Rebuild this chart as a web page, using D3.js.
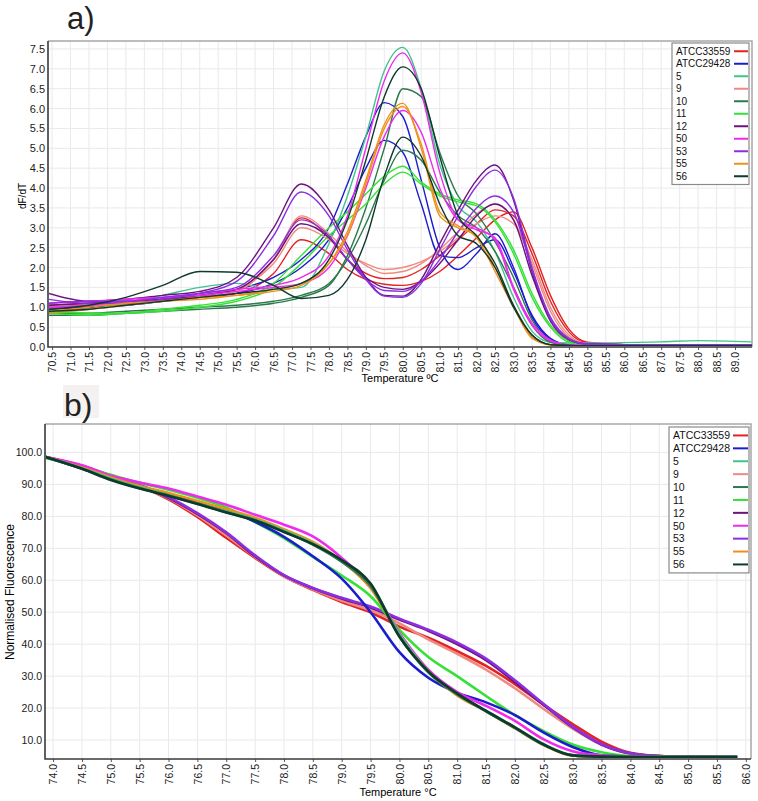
<!DOCTYPE html>
<html><head><meta charset="utf-8">
<script src="https://cdn.jsdelivr.net/npm/d3@7"></script>
<style>
html,body{margin:0;padding:0;background:#fff;}
svg{display:block;font-family:"Liberation Sans",Arial,sans-serif;}
</style></head>
<body><svg id="c" width="758" height="801"></svg>
<script>
// ---------- DATA ----------
const samples = ["ATCC33559","ATCC29428","5","9","10","11","12","50","53","55","56"];
const sampleColors = ["#e32222","#1c1ccf","#3fc48c","#f08a80","#2b7a4c","#36e036","#6c137c","#ee2aee","#8b2fe0","#f0901c","#0e3a2e"];

// a) derivative melt curves (dF/dT), replicates per sample, sampled at meltTemps
const meltTemps = [70.4,71.5,72.5,73.5,74.5,75.5,76.5,77.25,78,78.5,79,79.5,80,80.5,81,81.5,82,82.5,83,83.5,84,84.5,85,86,87,88,89.45];
const dFdT_ATCC33559 = [
 [1.05,1.1,1.15,1.2,1.25,1.35,1.85,2.7,2.35,1.95,1.7,1.58,1.55,1.65,1.9,2.3,2.75,3.2,3.4,2.5,1.3,0.45,0.12,0.06,0.05,0.05,0.05],
 [0.85,1.0,1.1,1.2,1.3,1.45,2.2,3.25,2.75,2.2,1.85,1.72,1.75,1.95,2.3,2.7,3.1,3.45,3.3,2.35,1.15,0.38,0.1,0.06,0.05,0.05,0.05]];
const dFdT_ATCC29428 = [
 [1.0,1.05,1.1,1.2,1.3,1.45,1.75,2.2,3.0,4.1,5.3,6.15,5.8,4.2,2.5,1.95,2.35,2.85,2.0,0.75,0.2,0.06,0.05,0.05,0.05,0.05,0.05],
 [0.95,1.0,1.05,1.15,1.25,1.35,1.6,2.0,2.7,3.5,4.5,5.2,4.9,3.6,2.3,2.25,2.5,2.7,1.9,0.8,0.22,0.06,0.05,0.05,0.05,0.05,0.05]];
const dFdT_5 = [
 [0.85,0.95,1.1,1.3,1.5,1.6,1.45,1.5,2.6,3.8,5.3,6.95,7.54,6.5,4.6,3.55,3.15,2.4,1.25,0.4,0.12,0.1,0.1,0.11,0.13,0.16,0.13]];
const dFdT_9 = [
 [0.9,0.95,1.05,1.15,1.25,1.4,2.2,3.3,2.85,2.4,2.05,1.85,1.9,2.1,2.45,2.9,3.35,3.6,3.2,2.1,0.9,0.25,0.08,0.06,0.05,0.05,0.05],
 [1.0,1.05,1.1,1.2,1.3,1.45,2.1,3.0,2.7,2.35,2.1,1.95,2.0,2.15,2.4,2.75,3.1,3.3,3.1,2.2,1.0,0.3,0.08,0.06,0.05,0.05,0.05]];
const dFdT_10 = [
 [0.8,0.8,0.85,0.9,0.95,1.0,1.1,1.25,1.55,2.3,3.5,5.0,6.5,6.3,4.9,3.8,3.35,2.65,1.75,0.68,0.15,0.05,0.04,0.04,0.04,0.04,0.04],
 [0.85,0.85,0.9,0.95,1.0,1.05,1.15,1.3,1.6,2.2,3.1,4.2,4.95,4.7,3.9,3.3,3.0,2.4,1.5,0.55,0.12,0.04,0.04,0.04,0.04,0.04,0.04]];
const dFdT_11 = [
 [0.85,0.8,0.85,0.95,1.05,1.2,1.6,2.3,3.0,3.4,3.85,4.3,4.55,4.15,3.85,3.7,3.6,3.2,2.45,1.35,0.55,0.15,0.05,0.05,0.05,0.05,0.05],
 [0.9,0.85,0.85,0.9,1.0,1.15,1.5,2.1,2.8,3.2,3.6,4.1,4.4,4.1,3.8,3.65,3.55,3.15,2.35,1.25,0.5,0.12,0.05,0.05,0.05,0.05,0.05]];
const dFdT_12 = [
 [1.35,1.15,1.2,1.3,1.4,1.75,3.0,4.1,3.45,2.55,1.75,1.3,1.28,1.7,2.6,3.45,4.2,4.58,3.7,1.9,0.7,0.2,0.08,0.06,0.05,0.05,0.05],
 [1.05,1.1,1.15,1.2,1.3,1.45,2.2,3.1,2.75,2.2,1.75,1.5,1.45,1.65,2.1,2.7,3.3,3.6,3.2,1.8,0.65,0.18,0.07,0.05,0.05,0.05,0.05]];
const dFdT_50 = [
 [1.0,1.05,1.15,1.25,1.35,1.45,1.55,1.75,2.3,3.3,5.0,6.7,7.4,6.4,4.4,3.2,2.95,2.75,1.5,0.6,0.18,0.05,0.04,0.04,0.04,0.04,0.04],
 [1.1,1.15,1.2,1.25,1.3,1.4,1.5,1.6,2.0,2.8,4.0,5.3,5.95,5.4,4.0,3.2,3.0,2.7,1.45,0.55,0.15,0.05,0.04,0.04,0.04,0.04,0.04]];
const dFdT_53 = [
 [1.2,1.1,1.1,1.2,1.35,1.65,2.8,3.9,3.3,2.45,1.7,1.28,1.25,1.6,2.45,3.3,4.05,4.45,3.75,2.0,0.75,0.22,0.08,0.06,0.05,0.05,0.05],
 [1.1,1.15,1.15,1.25,1.35,1.5,2.3,3.2,2.8,2.2,1.7,1.42,1.4,1.65,2.2,2.9,3.5,3.8,3.4,1.95,0.7,0.2,0.07,0.05,0.05,0.05,0.05]];
const dFdT_55 = [
 [0.85,0.95,1.05,1.15,1.2,1.3,1.4,1.55,2.1,2.9,4.2,5.6,6.13,5.0,3.3,3.0,2.8,2.0,1.05,0.25,0.05,0.03,0.03,0.03,0.03,0.03,0.03],
 [0.9,1.0,1.1,1.15,1.25,1.3,1.45,1.6,2.1,2.8,4.1,5.5,6.05,5.1,3.4,3.05,2.75,1.9,1.0,0.22,0.05,0.03,0.03,0.03,0.03,0.03,0.03]];
const dFdT_56 = [
 [0.9,0.95,1.05,1.15,1.25,1.35,1.45,1.6,2.2,3.2,4.7,6.3,7.05,6.5,4.8,3.3,2.8,2.1,1.05,0.3,0.06,0.04,0.03,0.03,0.03,0.03,0.03],
 [0.95,1.05,1.25,1.55,1.9,1.88,1.55,1.22,1.3,1.7,2.7,4.3,5.28,4.8,3.6,2.8,2.6,2.0,1.0,0.3,0.06,0.04,0.03,0.03,0.03,0.03,0.03]];
const dFdTBySample = [dFdT_ATCC33559,dFdT_ATCC29428,dFdT_5,dFdT_9,dFdT_10,dFdT_11,dFdT_12,dFdT_50,dFdT_53,dFdT_55,dFdT_56];

// b) normalised fluorescence, one curve per sample, sampled at normTemps
const normTemps = [73.87,74.5,75,75.5,76,76.5,77,77.5,78,78.5,79,79.5,80,80.5,81,81.5,82,82.5,83,83.5,84,84.5,85,85.85];
const nf_ATCC33559 = [98.6,95.5,92.5,89.5,85.3,79.8,73.3,67,61.2,57,53.2,50,45.5,42,37.8,33.2,27.5,21,15,9.5,6,5,4.8,4.7];
const nf_ATCC29428 = [98.6,95,92,89.3,87,84.5,82,78.3,73.6,67.5,60.5,50,37.5,29.5,24.8,21.8,17.8,12.3,7.8,5.2,4.8,4.7,4.7,4.7];
const nf_5  = [98.6,95,91.8,89,86.6,84,81.5,79,75.5,71.5,66,58.5,43,31.5,24.5,19.2,14,8.7,5.3,4.8,4.7,4.7,4.7,4.7];
const nf_9  = [98.6,95.6,92.6,89.6,85.6,80.3,74,67.3,61.3,57.2,53.6,50.6,46.5,41.5,37,32,26.2,19.7,13.6,8.6,5.7,5,4.8,4.7];
const nf_10 = [98.6,95,91.5,88.8,86.5,84,81.3,78.8,75.2,71.2,65.8,58.2,42.5,31.2,24.3,19,13.8,8.5,5.2,4.8,4.7,4.7,4.7,4.7];
const nf_11 = [98.2,95.6,93,90.5,88.3,85.8,82.8,78.2,73.2,67.3,61.5,55,44.5,36,30,23.8,17.8,12.8,8.6,6.2,5,4.8,4.7,4.7];
const nf_12 = [98.6,95.7,92.7,89.7,85.8,80.8,74.8,67.5,61.5,57.5,54.3,51.5,47.7,44.2,40,35,28.2,21,14,8.6,5.8,5,4.8,4.7];
const nf_50 = [98.6,96,92.7,90.6,88.7,86.2,83.6,80.5,77.4,73.7,67,58,43.5,32,25,20.7,16,10.2,6.5,5.2,4.8,4.7,4.7,4.7];
const nf_53 = [98.6,95.8,92.8,89.9,86,81,75,67.8,61.6,57.6,54.5,51.8,48,44.5,40.5,35.5,28.7,21.3,14.2,8.7,5.9,5,4.8,4.7];
const nf_55 = [98.6,95.3,92.2,89.5,87.3,84.8,82.3,79.6,76,72,66,57.5,43,31.5,24,19,13.7,8.4,5.1,4.8,4.7,4.7,4.7,4.7];
const nf_56 = [98.6,94.9,91.4,88.7,86.4,83.9,81.2,78.7,75.1,71.3,66.3,59,42.3,31.5,24.6,19.1,14,8.6,5.2,4.8,4.7,4.7,4.7,4.7];
const nfBySample = [nf_ATCC33559,nf_ATCC29428,nf_5,nf_9,nf_10,nf_11,nf_12,nf_50,nf_53,nf_55,nf_56];
const nfDrawOrder = ["ATCC33559","9","12","53","11","ATCC29428","50","55","5","10","56"];

// tick labels
const topXTicks = d3.range(141, 179).map(v => v / 2);   // 70.5 .. 89.0
const topYTicks = d3.range(0, 16).map(v => v / 2);      // 0.0 .. 7.5
const botXTicks = d3.range(148, 173).map(v => v / 2);   // 74.0 .. 86.0
const botYTicks = d3.range(1, 11).map(v => v * 10);     // 10 .. 100

// ---------- DRAW ----------
const svg = d3.select("#c");
const fmt = d3.format(".1f");
const FONT = "'Liberation Sans',Arial,sans-serif";

function panel(o) {
  const {L, T, R, B, x, y, xTicks, yTicks, yPad, xFont, yFont} = o;
  const g = svg.append("g");
  g.append("g").selectAll("line").data(xTicks).join("line")
    .attr("x1", d => x(d)).attr("x2", d => x(d)).attr("y1", T).attr("y2", B)
    .attr("stroke", "#e9e9ee").attr("stroke-width", 1);
  g.append("g").selectAll("line").data(yTicks).join("line")
    .attr("x1", L).attr("x2", R).attr("y1", d => y(d)).attr("y2", d => y(d))
    .attr("stroke", "#e9e9ee").attr("stroke-width", 1);
  g.append("path").attr("d", `M${L},${T}H${R}V${B}`).attr("fill", "none")
    .attr("stroke", "#a8a8a8").attr("stroke-width", 1.5);
  const xa = g.append("g").attr("transform", `translate(0,${B})`)
    .call(d3.axisBottom(x).tickValues(xTicks).tickFormat(fmt).tickSize(3).tickSizeOuter(0));
  xa.select(".domain").remove();
  xa.selectAll(".tick line").attr("stroke", "#555");
  xa.selectAll("text").attr("transform", "rotate(-90)").attr("text-anchor", "end")
    .attr("x", -5).attr("y", 0).attr("dy", "0.35em")
    .attr("font-size", xFont).attr("font-family", FONT).attr("fill", "#222");
  const ya = g.append("g").attr("transform", `translate(${L},0)`)
    .call(d3.axisLeft(y).tickValues(yTicks).tickFormat(fmt).tickSize(0).tickPadding(yPad));
  ya.select(".domain").remove();
  ya.selectAll("text").attr("font-size", yFont).attr("font-family", FONT).attr("fill", "#222");
  g.append("path").attr("d", `M${L},${T}V${B}H${R}`).attr("fill", "none")
    .attr("stroke", "#3a3a3a").attr("stroke-width", 1.6);
  return g;
}

function legend(x0, y0, w, rowH, font, lineX1, lineX2) {
  const h = rowH * samples.length + 4;
  const g = svg.append("g");
  g.append("rect").attr("x", x0).attr("y", y0).attr("width", w).attr("height", h)
    .attr("fill", "#fff").attr("stroke", "#8a8a8a").attr("stroke-width", 1.2);
  samples.forEach((s, i) => {
    const cy = y0 + 2 + rowH * (i + 0.5);
    g.append("text").attr("x", x0 + 4).attr("y", cy).attr("dy", "0.36em")
      .attr("font-size", font).attr("font-family", FONT).attr("fill", "#111").text(s);
    g.append("line").attr("x1", lineX1).attr("x2", lineX2).attr("y1", cy).attr("y2", cy)
      .attr("stroke", sampleColors[i]).attr("stroke-width", 2);
  });
}

// ----- panel a -----
{
  const L = 48, T = 41, R = 752, B = 347;
  const x = d3.scaleLinear().domain([70.39, 89.46]).range([L, R]);
  const y = d3.scaleLinear().domain([0, 7.70]).range([B, T]);
  panel({L, T, R, B, x, y, xTicks: topXTicks, yTicks: topYTicks, yPad: 3, xFont: 10.5, yFont: 11});
  svg.append("clipPath").attr("id", "clipA").append("rect")
    .attr("x", L + 1).attr("y", T).attr("width", R - L - 1).attr("height", B - T - 1);
  const line = d3.line().x((d, i) => x(meltTemps[i])).y(d => y(d)).curve(d3.curveMonotoneX);
  const gl = svg.append("g").attr("clip-path", "url(#clipA)");
  dFdTBySample.forEach((reps, si) => {
    reps.forEach(r => {
      gl.append("path").attr("d", line(r)).attr("fill", "none")
        .attr("stroke", sampleColors[si]).attr("stroke-width", 1.4);
    });
  });
  svg.append("text").attr("x", 22).attr("y", (T + B) / 2 + 2).attr("transform", `rotate(-90,22,${(T + B) / 2 + 2})`)
    .attr("text-anchor", "middle").attr("dy", "0.35em").attr("font-size", 10).attr("font-family", FONT).text("dF/dT");
  svg.append("text").attr("x", 400).attr("y", 382).attr("text-anchor", "middle")
    .attr("font-size", 11).attr("font-family", FONT).text("Temperature ºC");
  svg.append("text").attr("x", 67).attr("y", 29).attr("font-size", 31)
    .attr("font-family", FONT).attr("fill", "#222").text("a)");
  legend(672, 43, 77, 12.5, 10, 734, 748);
}

// ----- panel b -----
{
  const L = 45, T = 424, R = 751, B = 759;
  const x = d3.scaleLinear().domain([73.86, 86.09]).range([L, R]);
  const y = d3.scaleLinear().domain([4.07, 108.9]).range([B, T]);
  panel({L, T, R, B, x, y, xTicks: botXTicks, yTicks: botYTicks, yPad: 3, xFont: 10.5, yFont: 10.5});
  svg.append("clipPath").attr("id", "clipB").append("rect")
    .attr("x", L + 1).attr("y", T).attr("width", R - L - 1).attr("height", B - T - 1);
  const line = d3.line().x((d, i) => x(normTemps[i])).y(d => y(d)).curve(d3.curveMonotoneX);
  const gl = svg.append("g").attr("clip-path", "url(#clipB)");
  nfDrawOrder.forEach(s => {
    const si = samples.indexOf(s);
    gl.append("path").attr("d", line(nfBySample[si])).attr("fill", "none")
      .attr("stroke", sampleColors[si]).attr("stroke-width", 2.6).attr("stroke-linejoin", "round");
  });
  svg.append("text").attr("x", 10).attr("y", 592).attr("transform", "rotate(-90,10,592)")
    .attr("text-anchor", "middle").attr("dy", "0.35em").attr("font-size", 12).attr("font-family", FONT)
    .text("Normalised Fluorescence");
  svg.append("text").attr("x", 398).attr("y", 796).attr("text-anchor", "middle")
    .attr("font-size", 11).attr("font-family", FONT).text("Temperature °C");
  svg.append("rect").attr("x", 63).attr("y", 385).attr("width", 36).attr("height", 33).attr("fill", "#f5f1f1");
  svg.append("text").attr("x", 64).attr("y", 416).attr("font-size", 32)
    .attr("font-family", FONT).attr("fill", "#222").text("b)");
  legend(669, 427, 80, 12.9, 10.5, 733, 748);
}
</script></body></html>
